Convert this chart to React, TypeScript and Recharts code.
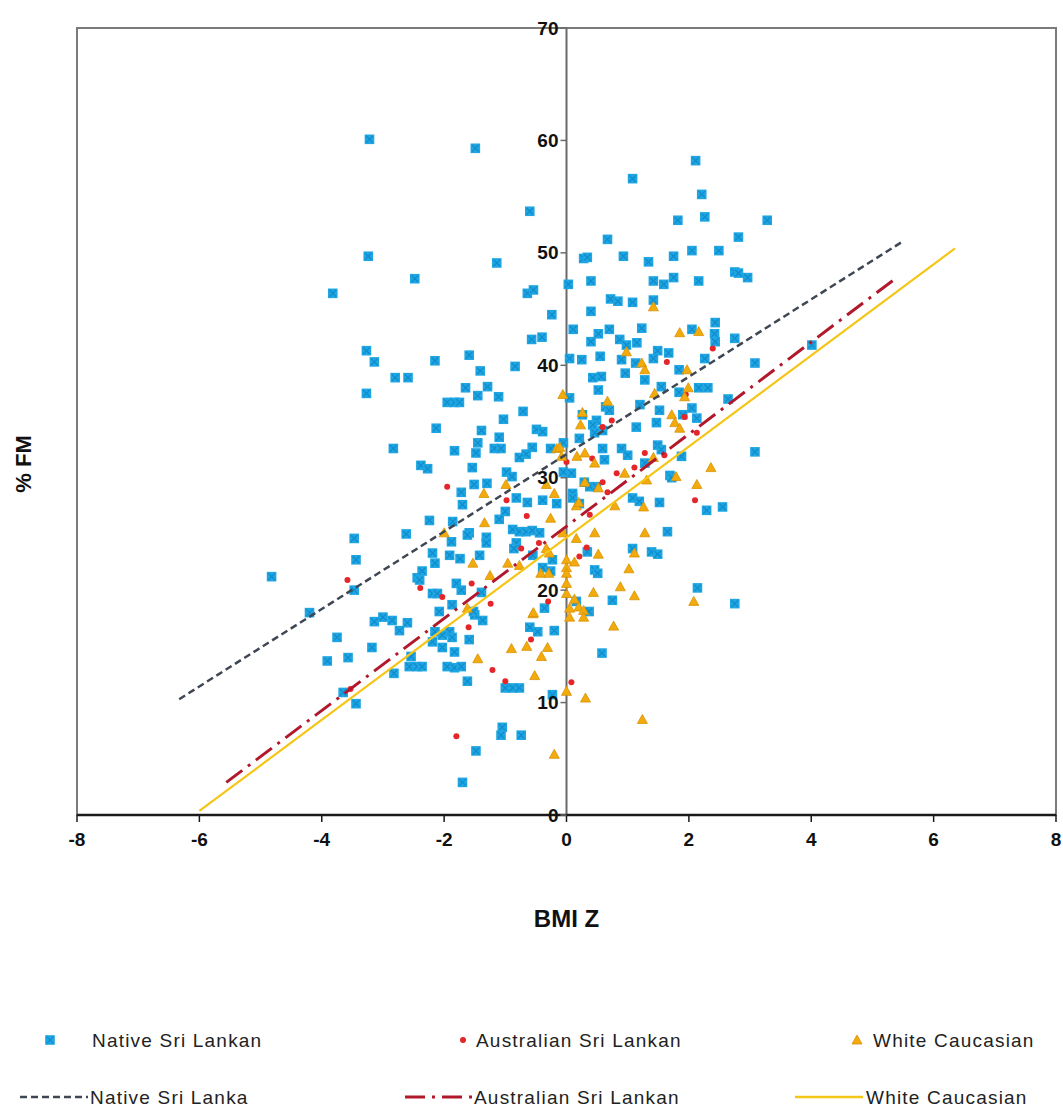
import React from 'react';
import { ScatterChart, Scatter, XAxis, YAxis, ReferenceLine, ReferenceArea, Legend, Label } from 'recharts';

// ---------------- data (BMI Z, %FM) ----------------
const nativeSriLankan: number[][] = [
  [-3.22,60.1],[-1.49,59.3],[-0.6,53.7],[-3.24,49.7],[-1.14,49.1],[-2.48,47.7],[-3.82,46.4],[-0.64,46.4],[-0.54,46.7],[0.03,47.2],
  [-0.24,44.5],[0.4,47.5],[0.28,49.5],[0.34,49.6],[0.67,51.2],[1.08,56.6],[0.93,49.7],[1.34,49.2],[1.75,49.7],[1.82,52.9],
  [2.11,58.2],[2.21,55.2],[2.26,53.2],[2.05,50.2],[2.49,50.2],[2.81,51.4],[3.28,52.9],[2.75,48.3],[2.81,48.2],[2.96,47.8],
  [1.42,47.5],[1.59,47.2],[1.75,47.8],[2.16,47.5],[0.72,45.9],[0.84,45.7],[1.08,45.6],[1.42,45.8],[0.4,44.8],[0.11,43.2],
  [0.7,43.2],[0.52,42.8],[1.23,43.3],[2.05,43.2],[2.43,43.8],
  [-0.57,42.3],[-0.4,42.5],[-3.27,41.3],[-3.14,40.3],[-2.8,38.9],[-2.59,38.9],[-2.15,40.4],[-1.59,40.9],[-1.41,39.5],[-3.27,37.5],
  [-1.65,38.0],[-1.45,37.3],[-1.29,38.1],[-1.11,37.2],[-1.95,36.7],[-1.83,36.7],[-1.75,36.7],[-0.71,35.9],[-0.84,39.9],[-1.03,35.2],
  [0.05,40.6],[0.25,40.5],[0.4,42.1],[0.87,42.3],[0.98,41.8],[1.15,42.0],[1.49,41.3],[1.67,41.1],[2.42,42.8],[2.43,42.1],
  [2.75,42.4],[4.01,41.8],[3.08,40.2],[0.55,40.8],[0.9,40.5],[1.42,40.6],[2.26,40.6],[0.43,38.9],[0.57,39.0],[0.96,39.3],
  [1.13,40.2],[1.28,38.7],[1.84,39.6],[0.52,37.8],[0.05,37.1],[1.55,38.1],[2.16,38.0],[2.31,38.0],[2.64,37.0],[1.2,36.5],
  [1.84,37.6],[2.05,36.2],[0.64,36.3],[0.7,36.0],[1.52,36.0],[2.13,35.3],[0.26,35.6],[0.49,35.1],[0.43,34.7],[1.14,34.5],
  [1.47,34.9],[1.9,35.6],
  [-2.83,32.6],[-2.38,31.1],[-2.27,30.8],[-2.13,34.4],[-1.39,34.2],[-1.1,33.6],[-0.49,34.3],[-0.39,34.1],[-1.45,33.1],[-1.83,32.4],
  [-1.48,32.2],[-1.18,32.6],[-1.07,32.6],[-0.56,32.7],[-0.26,32.6],[-0.66,32.1],[-0.77,31.8],[-0.05,33.1],[-1.54,30.9],[-0.98,30.5],
  [-0.05,30.5],[-1.51,29.4],[-1.72,28.7],[-0.82,28.2],[-0.64,27.8],[-0.39,28.0],[-0.16,27.7],[-1.7,27.6],[-1.0,27.0],[-1.1,26.3],
  [-2.24,26.2],[-1.86,26.1],[-1.59,25.1],[-1.31,24.7],[-1.31,24.2],[-1.88,24.3],[-0.88,25.4],[-0.77,25.2],[-0.66,25.2],[-0.56,25.3],
  [-0.44,25.1],[-0.82,24.2],[-2.19,23.3],[-1.91,23.1],[-1.42,23.1],[-1.3,29.5],[-0.89,30.1],[-1.62,24.9],
  [0.21,33.5],[0.59,34.2],[0.46,34.0],[0.59,32.6],[0.9,32.6],[1.0,32.0],[1.49,32.9],[1.55,32.5],[1.88,31.9],[0.62,31.6],
  [1.28,31.3],[0.08,30.4],[1.69,30.2],[1.72,30.0],[0.29,29.6],[0.38,29.2],[0.49,29.2],[0.1,28.6],[0.1,28.2],[1.08,28.2],
  [1.19,27.9],[1.52,27.8],[2.29,27.1],[2.55,27.4],[0.21,27.7],[1.65,25.2],[1.08,23.7],[1.39,23.4],[1.49,23.2],[0.34,23.4],
  [3.08,32.3],[2.14,20.2],[2.75,18.8],[0.75,19.1],[0.58,14.4],[0.37,18.1],[0.46,21.8],[0.51,21.5],[0.16,19.0],
  [-3.47,24.6],[-3.44,22.7],[-2.62,25.0],[-4.82,21.2],[-2.44,21.1],[-3.47,20.0],[-4.2,18.0],[-3.14,17.2],[-3.0,17.6],[-2.85,17.3],
  [-2.6,17.1],[-2.73,16.4],[-3.75,15.8],[-3.18,14.9],[-3.91,13.7],[-3.57,14.0],[-2.54,14.1],[-2.57,13.2],[-2.82,12.6],[-2.44,13.2],
  [-3.65,10.9],[-3.44,9.9],
  [-2.15,22.4],[-2.36,21.7],[-2.4,20.9],[-1.74,22.8],[-1.8,20.6],[-1.72,20.0],[-2.19,19.7],[-2.11,19.7],[-1.39,19.8],[-2.08,18.1],
  [-1.87,18.7],[-1.5,17.8],[-1.37,17.3],[-1.91,16.3],[-1.87,15.8],[-1.59,15.6],[-2.19,15.4],[-2.03,14.9],[-1.83,14.5],[-2.36,13.2],
  [-1.95,13.2],[-1.83,13.1],[-1.72,13.2],[-1.62,11.9],[-0.6,16.7],[-0.47,16.3],[-0.2,16.4],[-0.36,18.4],[-1.0,11.3],[-0.88,11.3],
  [-0.77,11.3],[-0.23,10.7],[-1.05,7.8],[-1.07,7.1],[-0.74,7.1],[-1.48,5.7],[-1.7,2.9],[-1.52,18.1],[-2.15,16.3],[-2.03,16.0],
  [-0.86,23.7],[-0.55,23.1],[-0.39,22.0],[-0.26,21.7],[-0.23,22.7],
];

const australianSriLankan: number[][] = [
  [-3.58,20.9],[-3.53,11.2],[-2.39,20.2],[-2.03,19.4],[-1.95,29.2],[-1.8,7.0],[-1.6,16.7],[-1.55,20.6],[-1.24,18.8],[-1.21,12.9],
  [-1.0,11.9],[-0.98,28.0],[-0.74,23.7],[-0.65,26.6],[-0.58,15.6],[-0.45,24.2],[-0.3,19.0],[0.0,31.4],[0.08,11.8],[0.21,23.0],
  [0.33,23.8],[0.38,26.7],[0.42,31.7],[0.59,34.5],[0.59,29.6],[0.67,28.7],[0.74,35.1],[0.82,30.4],[1.11,30.9],[1.28,32.2],
  [1.6,32.0],[1.64,40.3],[1.93,35.4],[1.95,37.4],[2.1,28.0],[2.13,34.0],[2.39,41.5],
];

const whiteCaucasian: number[][] = [
  [-2.0,25.1],[-1.53,22.4],[-1.62,18.4],[-1.45,13.9],[-1.35,28.6],[-1.34,26.0],[-1.25,21.3],[-0.99,29.4],[-0.96,22.4],[-0.9,14.8],
  [-0.77,22.2],[-0.65,15.0],[-0.55,17.9],[-0.52,12.4],[-0.42,21.5],[-0.41,14.1],[-0.33,29.4],[-0.33,23.7],[-0.31,14.9],[-0.28,23.3],
  [-0.29,21.5],[-0.26,26.4],[-0.2,28.6],[-0.2,5.4],[-0.16,32.6],[-0.11,32.7],[-0.08,31.9],[-0.06,37.4],[-0.06,25.1],[0.0,22.7],
  [0.0,22.0],[0.0,21.5],[0.0,20.6],[0.0,19.7],[0.0,11.0],[0.13,22.5],[0.13,19.2],[0.2,18.5],[0.05,18.4],[0.05,17.6],
  [0.28,18.2],[0.28,17.6],[0.16,27.5],[0.2,27.8],[0.16,24.6],[0.17,31.9],[0.3,32.2],[0.23,34.7],[0.26,35.8],[0.3,29.6],
  [0.31,10.4],[0.44,19.8],[0.46,31.3],[0.46,25.1],[0.52,29.1],[0.52,23.2],[0.67,36.8],[0.77,16.8],[0.79,27.5],[0.88,20.3],
  [0.95,30.4],[0.98,41.2],[1.02,21.9],[1.11,23.3],[1.11,19.5],[1.23,40.2],[1.28,39.6],[1.24,8.5],[1.26,27.4],[1.28,25.1],
  [1.31,29.8],[1.42,31.8],[1.42,45.2],[1.44,37.5],[1.72,35.6],[1.77,34.9],[1.85,34.4],[1.79,30.1],[1.85,42.9],[1.97,39.6],
  [1.99,38.0],[1.93,37.2],[2.08,19.0],[2.13,29.4],[2.16,43.0],[2.36,30.9],[-0.54,18.0],
];

// regression line end points
const nativeFit: number[][] = [[-6.33,10.3],[5.52,51.1]];
const australianFit: number[][] = [[-5.56,2.9],[5.35,47.6]];
const caucasianFit: number[][] = [[-6.0,0.36],[6.35,50.4]];

const xTicks = [-8,-6,-4,-2,0,2,4,6,8];
const yTicks = [0,10,20,30,40,50,60,70];

const scatterLegend = ['Native Sri Lankan','Australian Sri Lankan','White Caucasian'];
const lineLegend = ['Native Sri Lanka','Australian Sri Lankan','White Caucasian'];

// ---------------- layout / style ----------------
const W = 1063;
const H = 1111;
const XAXIS_H = 30;
const YAXIS_W = 40;
const M = { top: 28, right: 7, bottom: 1111 - 815 - XAXIS_H, left: 77 - YAXIS_W };
const PLOT_LEFT = 77;
const PLOT_W = W - PLOT_LEFT - M.right;
const ZERO_X = PLOT_LEFT + PLOT_W / 2;
const FONT = '"Liberation Sans", Arial, Helvetica, sans-serif';

const BLUE = '#1fa6e2';
const BLUE_X = '#0f8bcc';
const RED = '#e4262b';
const GOLD = '#f2aa0c';
const GOLD_EDGE = '#d99200';
const NATIVE_LINE = '#3e4753';
const AUS_LINE = '#b2182b';
const CAU_LINE = '#f5c518';

const toPts = (arr: number[][]) => arr.map(([x, y]) => ({ x, y }));

const BlueMarker = (p: any) => {
  const { cx, cy } = p;
  if (cx == null || cy == null) return <g />;
  const s = 4.8;
  return (
    <g>
      <rect x={cx - s} y={cy - s} width={2 * s} height={2 * s} fill={BLUE} />
      <path d={`M${cx - s + 1.5},${cy - s + 1.5}L${cx + s - 1.5},${cy + s - 1.5}M${cx + s - 1.5},${cy - s + 1.5}L${cx - s + 1.5},${cy + s - 1.5}`} stroke={BLUE_X} strokeWidth={1.2} />
    </g>
  );
};

const RedMarker = (p: any) => {
  const { cx, cy } = p;
  if (cx == null || cy == null) return <g />;
  return <circle cx={cx} cy={cy} r={3} fill={RED} />;
};

const GoldMarker = (p: any) => {
  const { cx, cy } = p;
  if (cx == null || cy == null) return <g />;
  const s = 5;
  return (
    <path d={`M${cx},${cy - s}L${cx + s},${cy + s * 0.8}L${cx - s},${cy + s * 0.8}Z`} fill={GOLD} stroke={GOLD_EDGE} strokeWidth={0.8} />
  );
};

const NoMarker = () => <g />;

const YTick = (p: any) => {
  const { y, payload } = p;
  return (
    <g>
      <line x1={ZERO_X - 6} x2={ZERO_X} y1={y} y2={y} stroke="#6a6a6a" strokeWidth={1.5} />
      <text x={ZERO_X - 8} y={y} textAnchor="end" dominantBaseline="central" fontFamily={FONT} fontWeight="bold" fontSize={19} fill="#111">
        {payload.value}
      </text>
    </g>
  );
};

const LegendContent = () => {
  const row1 = 40;
  const row2 = 97;
  const cols1 = [{ m: 50, t: 92 }, { m: 463, t: 476 }, { m: 857, t: 873 }];
  const cols2 = [{ a: 20, b: 88, t: 90 }, { a: 405, b: 472, t: 474 }, { a: 795, b: 863, t: 866 }];
  const txt = { fontFamily: FONT, fontSize: 19, fill: '#222', letterSpacing: 1.2 } as any;
  return (
    <svg width={W} height={111} style={{ display: 'block' }}>
      <BlueMarker cx={cols1[0].m} cy={row1} />
      <RedMarker cx={cols1[1].m} cy={row1} />
      <GoldMarker cx={cols1[2].m} cy={row1} />
      {scatterLegend.map((s, i) => (
        <text key={'s' + i} x={cols1[i].t} y={row1} dominantBaseline="central" {...txt}>{s}</text>
      ))}
      <line x1={cols2[0].a} x2={cols2[0].b} y1={row2} y2={row2} stroke={NATIVE_LINE} strokeWidth={2.5} strokeDasharray="7 4" />
      <line x1={cols2[1].a} x2={cols2[1].b} y1={row2} y2={row2} stroke={AUS_LINE} strokeWidth={3} strokeDasharray="20 7 3 7" />
      <line x1={cols2[2].a} x2={cols2[2].b} y1={row2} y2={row2} stroke={CAU_LINE} strokeWidth={2.5} />
      {lineLegend.map((s, i) => (
        <text key={'l' + i} x={cols2[i].t} y={row2} dominantBaseline="central" {...txt}>{s}</text>
      ))}
    </svg>
  );
};

const YTitle = () => (
  <text transform="translate(23,464) rotate(-90)" textAnchor="middle" dominantBaseline="central" fontFamily={FONT} fontWeight="bold" fontSize={22} fill="#111">
    % FM
  </text>
);

const XTitle = () => (
  <text x={ZERO_X} y={918} textAnchor="middle" dominantBaseline="central" fontFamily={FONT} fontWeight="bold" fontSize={24} fill="#111">
    BMI Z
  </text>
);

export default function App() {
  return (
    <div style={{ position: 'absolute', left: 0, top: 0, width: W, height: H, overflow: 'hidden', background: '#fff' }}>
      <ScatterChart width={W} height={H} margin={M}>
        <XAxis
          type="number"
          dataKey="x"
          domain={[-8, 8]}
          ticks={xTicks}
          interval={0}
          allowDataOverflow
          height={XAXIS_H}
          axisLine={{ stroke: '#1a1a1a', strokeWidth: 2.5 }}
          tickLine={{ stroke: '#1a1a1a', strokeWidth: 1.5 }}
          tickSize={7}
          tickMargin={11}
          tick={{ fontFamily: FONT, fontWeight: 'bold', fontSize: 19, fill: '#111' }}
        >
          <Label content={<XTitle />} />
        </XAxis>
        <YAxis
          type="number"
          dataKey="y"
          domain={[0, 70]}
          ticks={yTicks}
          interval={0}
          allowDataOverflow
          width={YAXIS_W}
          axisLine={false}
          tickLine={false}
          tick={<YTick />}
        >
          <Label content={<YTitle />} />
        </YAxis>
        <ReferenceArea x1={-8} x2={8} y1={0} y2={70} fill="none" stroke="#7a7a7a" strokeWidth={2} ifOverflow="visible" />
        <ReferenceLine x={0} stroke="#6a6a6a" strokeWidth={2} ifOverflow="visible" />
        <Legend verticalAlign="middle" align="center" layout="horizontal" content={<LegendContent />} wrapperStyle={{ position: 'absolute', top: 1000, left: 0, width: W, height: 111 }} />
        <Scatter name="Native Sri Lankan" data={toPts(nativeSriLankan)} fill={BLUE} shape={<BlueMarker />} isAnimationActive={false} />
        <Scatter name="Australian Sri Lankan" data={toPts(australianSriLankan)} fill={RED} shape={<RedMarker />} isAnimationActive={false} />
        <Scatter name="White Caucasian" data={toPts(whiteCaucasian)} fill={GOLD} shape={<GoldMarker />} isAnimationActive={false} />
        <Scatter name="Native Sri Lanka fit" data={toPts(nativeFit)} fill={NATIVE_LINE} line={{ stroke: NATIVE_LINE, strokeWidth: 2.5, strokeDasharray: '7 4' }} lineType="joint" shape={<NoMarker />} legendType="none" isAnimationActive={false} />
        <Scatter name="Australian Sri Lankan fit" data={toPts(australianFit)} fill={AUS_LINE} line={{ stroke: AUS_LINE, strokeWidth: 3, strokeDasharray: '20 7 3 7' }} lineType="joint" shape={<NoMarker />} legendType="none" isAnimationActive={false} />
        <Scatter name="White Caucasian fit" data={toPts(caucasianFit)} fill={CAU_LINE} line={{ stroke: CAU_LINE, strokeWidth: 2.2 }} lineType="joint" shape={<NoMarker />} legendType="none" isAnimationActive={false} />
      </ScatterChart>
    </div>
  );
}
